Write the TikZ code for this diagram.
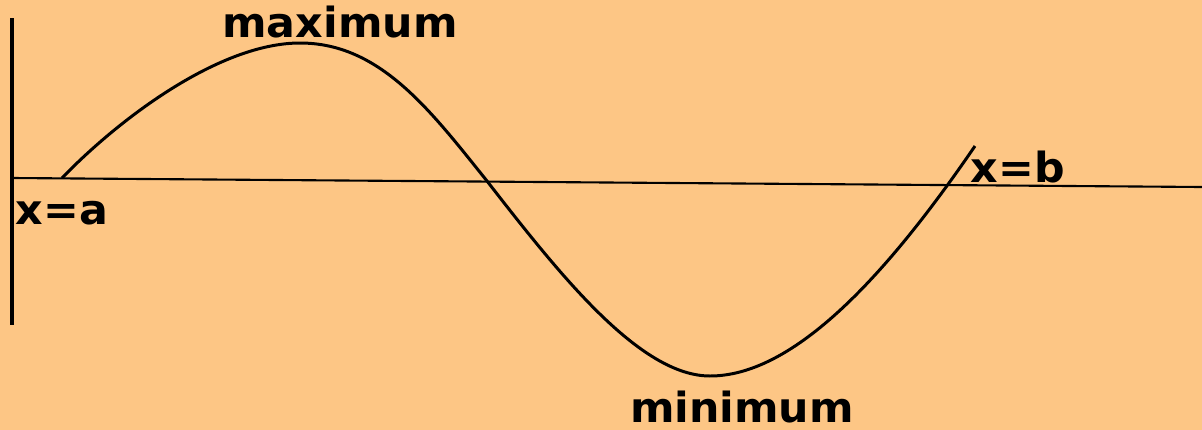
\documentclass[tikz,border=0pt]{standalone}
\usepackage{fontspec}
\newfontfamily\lblfont{DejaVu Sans}[FakeStretch=1.03]
\definecolor{paper}{RGB}{253,198,133}
\tikzset{
  lbl/.style={font=\lblfont\bfseries\fontsize{11.8}{14}\selectfont, inner sep=0pt},
  curve/.style={line width=0.85pt},
}
\begin{document}
\begin{tikzpicture}[x=0.01cm,y=-0.01cm]
    \fill[paper] (0,0) rectangle (1202,430);
    \useasboundingbox (0,0) rectangle (1202,430);
    % axes
    \coordinate (vtop) at (12,18);
    \coordinate (vbot) at (12,325);
    \coordinate (hleft) at (12,178);
    \coordinate (hright) at (1202,187);
    \draw[line width=1.1pt] (vtop) -- (vbot);
    \draw[line width=0.6pt] (hleft) -- (hright);
    % wave
    \coordinate (xa) at (62,178);
    \coordinate (top) at (300,43);
    \coordinate (mid) at (487,181);
    \coordinate (low) at (710,376);
    \coordinate (xb) at (975,146);
    \draw[curve] (xa) .. controls (120,118) and (220,43) .. (top)
        .. controls (380,43) and (430,110) .. (mid)
        .. controls (560,275) and (640,376) .. (low)
        .. controls (790,376) and (880,285) .. (xb);
    % labels
    \node[lbl] (maxlbl) at (340,22) {maximum};
    \node[lbl, anchor=south] (minlbl) at (742,424) {minimum};
    \node[lbl, anchor=west] (alb) at (15,213) {x=a};
    \node[lbl, anchor=west] (blb) at (970,167) {x=b};
\end{tikzpicture}
\end{document}
